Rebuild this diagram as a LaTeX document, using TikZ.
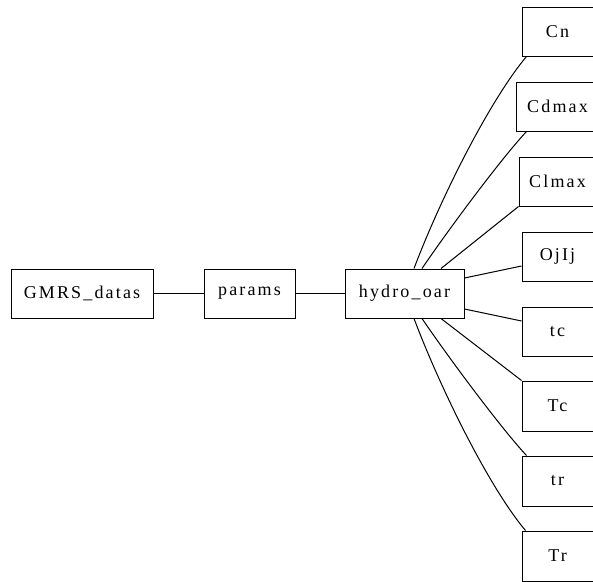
\documentclass[tikz,border=0pt]{standalone}
\usepackage{fontspec}
\setmainfont{Liberation Serif}[LetterSpace=12]
\usetikzlibrary{positioning}
\begin{document}
\begin{tikzpicture}[x=1pt,y=-1pt,
  box/.style={draw, line width=1pt, minimum height=49pt, inner sep=0pt,
    font=\fontsize{18}{20}\selectfont},
  edge/.style={line width=1pt}]
\useasboundingbox (0,0) rectangle (593,581);
\clip (0,0) rectangle (593,581);
\node[box, minimum width=142pt] (g) at (82,293.5) {GMRS\_datas};
\node[box, minimum width=91pt] (p) at (249.5,293.5) {params};
\node[box, minimum width=119pt] (h) at (404.5,293.5) {hydro\_oar};
\node[box, minimum width=71pt, minimum height=49pt] (cn) at (557.5,31.5) {Cn};
\node[box, minimum width=83pt] (cd) at (557.5,106.5) {Cdmax};
\node[box, minimum width=77pt] (cl) at (557.5,181.5) {Clmax};
\node[box, minimum width=71pt] (oj) at (557.5,256.5) {OjIj};
\node[box, minimum width=71pt] (tc) at (557.5,331.5) {tc};
\node[box, minimum width=71pt, minimum height=50pt] (Tc) at (557.5,406) {Tc};
\node[box, minimum width=71pt, minimum height=50pt] (tr) at (557.5,481) {tr};
\node[box, minimum width=71pt, minimum height=50pt] (Tr) at (557.5,556) {Tr};
\draw[edge] (g) -- (p);
\draw[edge] (p) -- (h);
\draw[edge] ([xshift=9.5pt]h.north) .. controls +(26,-69) and +(-37,44) .. ([xshift=5pt]cn.south west);
\draw[edge] ([xshift=17.5pt]h.north) .. controls +(23,-34) and +(-27,29) .. ([xshift=11pt]cd.south west);
\draw[edge] ([xshift=36.5pt]h.north) -- (cl.south west);
\draw[edge] ([yshift=15.5pt]h.east) -- ([yshift=-9.5pt]oj.west);
\draw[edge] ([yshift=-15.5pt]h.east) -- ([yshift=10.5pt]tc.west);
\draw[edge] ([xshift=36.5pt]h.south) -- (Tc.north west);
\draw[edge] ([xshift=17.5pt]h.south) .. controls +(23,34) and +(-27,-29) .. ([xshift=5pt]tr.north west);
\draw[edge] ([xshift=9.5pt]h.south) .. controls +(26,69) and +(-37,-44) .. ([xshift=4pt]Tr.north west);
\end{tikzpicture}
\end{document}
